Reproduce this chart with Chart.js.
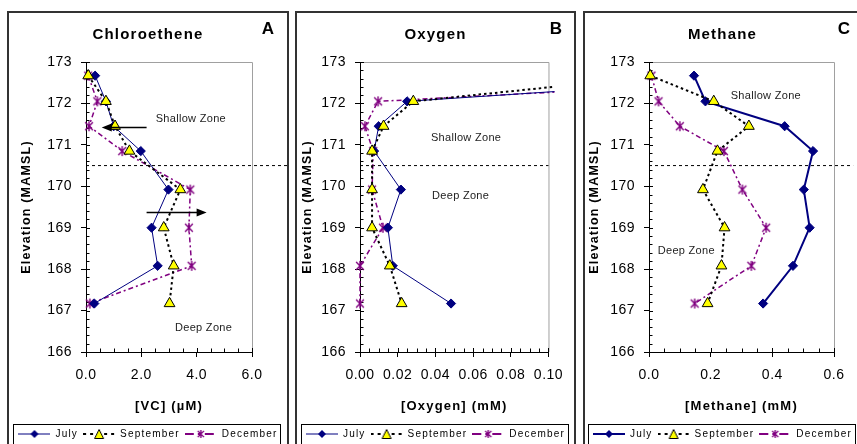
<!DOCTYPE html>
<html>
<head>
<meta charset="utf-8">
<title>Chloroethene, Oxygen and Methane profiles</title>
<script src="https://cdn.jsdelivr.net/npm/chart.js@4.4.1/dist/chart.umd.min.js"></script>
<style>
  html, body { margin: 0; padding: 0; background: #fff; }
  body { width: 857px; height: 444px; overflow: hidden; position: relative; }
  .panel { position: absolute; top: 11px; height: 450px; border: 2px solid #333; box-sizing: border-box; }
  .panel canvas { position: absolute; left: 0; top: 0; }
</style>
</head>
<body>
<div class="panel" style="left:7px;width:282px"><canvas id="chartA" width="278" height="440"></canvas></div>
<div class="panel" style="left:295px;width:281px"><canvas id="chartB" width="277" height="440"></canvas></div>
<div class="panel" style="left:583px;width:279px"><canvas id="chartC" width="275" height="440"></canvas></div>
<script>
// sampling elevations (m above mean sea level), shared by every series
const elevation = [172.67, 172.05, 171.45, 170.85, 169.92, 169.0, 168.08, 167.17];
const seriesNames = ['July', 'September', 'December'];

// [VC] in uM
const vcJuly = [0.33, 0.72, 1.0, 1.98, 2.98, 2.37, 2.59, 0.30];
const vcSept = [0.08, 0.72, 1.05, 1.57, 3.41, 2.81, 3.17, 3.02];
const vcDec  = [0.08, 0.41, 0.11, 1.31, 3.77, 3.72, 3.82, 0.14];

// [Oxygen] in mM (top values run off the axis)
const oxJuly = [0.23, 0.025, 0.0099, 0.0075, 0.0217, 0.0148, 0.0174, 0.0483];
const oxSept = [0.16, 0.0283, 0.0125, 0.0064, 0.0064, 0.0064, 0.0158, 0.0221];
const oxDec  = [0.27, 0.0096, 0.0026, 0.007, 0.0064, 0.0122, 0.0, 0.0];

// [Methane] in mM
const chJuly = [0.146, 0.183, 0.44, 0.532, 0.502, 0.521, 0.467, 0.37];
const chSept = [0.004, 0.21, 0.324, 0.222, 0.175, 0.245, 0.235, 0.19];
const chDec  = [0.008, 0.031, 0.10, 0.243, 0.303, 0.38, 0.332, 0.148];

// shallow / deep zone boundary
const boundaryElevation = 170.5;

// tick labels
const elevationLabels = ['166', '167', '168', '169', '170', '171', '172', '173'];
const vcLabels = ['0.0', '2.0', '4.0', '6.0'];
const oxLabels = ['0.00', '0.02', '0.04', '0.06', '0.08', '0.10'];
const chLabels = ['0.0', '0.2', '0.4', '0.6'];

const navy = '#000080';
const purple = '#800080';
Chart.defaults.font.family = 'Arial, "Liberation Sans", sans-serif';
Chart.defaults.color = '#000';

function makeAsterisk(size, color, lw) {
  const c = document.createElement('canvas');
  c.width = c.height = size;
  const g = c.getContext('2d');
  const m = size / 2, r = size / 2 - 1, d = r * 0.78;
  g.strokeStyle = color;
  g.lineWidth = lw;
  g.beginPath();
  g.moveTo(m - d, m - d); g.lineTo(m + d, m + d);
  g.moveTo(m + d, m - d); g.lineTo(m - d, m + d);
  g.moveTo(m, m - r); g.lineTo(m, m + r);
  g.stroke();
  return c;
}
const asterisk = makeAsterisk(12, purple, 1.4);
const asteriskSmall = makeAsterisk(10, purple, 1.4);

function legendIcon(kind, julyWidth) {
  const c = document.createElement('canvas');
  c.width = 32; c.height = 12;
  const g = c.getContext('2d');
  g.beginPath(); g.moveTo(0, 6); g.lineTo(32, 6);
  if (kind === 0) { g.strokeStyle = navy; g.lineWidth = julyWidth; }
  else if (kind === 1) { g.strokeStyle = '#000'; g.lineWidth = 2; g.setLineDash([3, 4]); }
  else { g.strokeStyle = purple; g.lineWidth = 2; g.setLineDash([9, 4, 3, 4]); }
  g.stroke();
  g.setLineDash([]);
  g.lineWidth = 1;
  if (kind === 0) {
    g.fillStyle = navy;
    g.beginPath(); g.moveTo(16, 2); g.lineTo(20, 6); g.lineTo(16, 10); g.lineTo(12, 6); g.closePath(); g.fill();
  } else if (kind === 1) {
    g.fillStyle = '#ffff00'; g.strokeStyle = '#000';
    g.beginPath(); g.moveTo(16, 1.5); g.lineTo(20.5, 10.5); g.lineTo(11.5, 10.5); g.closePath(); g.fill(); g.stroke();
  } else {
    g.drawImage(asteriskSmall, 11, 1);
  }
  return c;
}

function axisTicks(labels, parts) {
  const main = labels.map(Number);
  const ticks = [];
  main.forEach((v, i) => {
    ticks.push({ value: v, isMain: true });
    if (i < main.length - 1) {
      const step = (main[i + 1] - v) / parts;
      for (let k = 1; k < parts; k++) ticks.push({ value: +(v + k * step).toFixed(6), isMain: false });
    }
  });
  return ticks;
}

function labelFor(labels) {
  const main = labels.map(Number);
  return value => {
    const i = main.findIndex(m => Math.abs(m - value) < 1e-9);
    return i >= 0 ? labels[i] : '';
  };
}

const toPoints = xs => xs.map((v, i) => ({ x: v, y: elevation[i] }));

// draws plot frame, inner tick marks, zone notes, arrows, panel letter and legend box
const decor = {
  id: 'decor',
  beforeUpdate(chart) { chart.ctx.letterSpacing = '1.2px'; },
  beforeDraw(chart) { chart.ctx.letterSpacing = '1.2px'; },
  beforeDatasetsDraw(chart) {
    const { ctx, chartArea: a, scales: { x, y } } = chart;
    ctx.save();
    ctx.strokeStyle = '#a0a0a0';
    ctx.lineWidth = 1;
    ctx.beginPath();
    ctx.moveTo(a.left, a.top + 0.5);
    ctx.lineTo(a.right + 0.5, a.top + 0.5);
    ctx.lineTo(a.right + 0.5, a.bottom);
    ctx.stroke();
    ctx.strokeStyle = '#000';
    ctx.beginPath();
    x.ticks.forEach(t => {
      const px = Math.round(x.getPixelForValue(t.value)) + 0.5;
      ctx.moveTo(px, a.bottom);
      ctx.lineTo(px, a.bottom - (t.isMain ? 4 : 3.5));
    });
    y.ticks.forEach(t => {
      const py = Math.round(y.getPixelForValue(t.value)) + 0.5;
      ctx.moveTo(a.left, py);
      ctx.lineTo(a.left + (t.isMain ? 4 : 3.5), py);
    });
    ctx.stroke();
    ctx.restore();
  },
  afterDatasetsDraw(chart) { chart.ctx.letterSpacing = '0.5px'; },
  afterDraw(chart, args, opts) {
    const { ctx, scales: { x, y } } = chart;
    ctx.save();
    ctx.fillStyle = '#222';
    ctx.font = '11px Arial, "Liberation Sans", sans-serif';
    ctx.letterSpacing = '0.3px';
    ctx.textAlign = 'center';
    ctx.textBaseline = 'middle';
    (opts.zones || []).forEach(z => {
      ctx.fillText(z.text, x.getPixelForValue(z.x), y.getPixelForValue(z.y));
    });
    ctx.strokeStyle = '#000';
    ctx.fillStyle = '#000';
    ctx.lineWidth = 1.5;
    (opts.arrows || []).forEach(ar => {
      const x0 = x.getPixelForValue(ar.from), x1 = x.getPixelForValue(ar.to);
      const py = Math.round(y.getPixelForValue(ar.y)) + 0.5;
      const dir = Math.sign(x1 - x0);
      ctx.beginPath(); ctx.moveTo(x0, py); ctx.lineTo(x1 - dir * 8, py); ctx.stroke();
      ctx.beginPath(); ctx.moveTo(x1, py); ctx.lineTo(x1 - dir * 10, py - 4); ctx.lineTo(x1 - dir * 10, py + 4); ctx.closePath(); ctx.fill();
    });
    ctx.font = 'bold 17px Arial, "Liberation Sans", sans-serif';
    ctx.letterSpacing = '0px';
    ctx.fillText(opts.letter, 259, 16);
    const hb = chart.legend.legendHitBoxes;
    const l = Math.min(...hb.map(h => h.left)) - 5;
    const r = Math.max(...hb.map(h => h.left + h.width)) + 3;
    ctx.lineWidth = 1;
    ctx.strokeRect(Math.round(l) + 0.5, Math.round(chart.legend.top) + 0.5, Math.round(r - l), 40);
    ctx.restore();
  }
};

function makeChart(id, p) {
  const xLabel = labelFor(p.xLabels);
  const yLabel = labelFor(elevationLabels);
  const tickColor = c => (c.tick && c.tick.isMain ? '#000' : 'rgba(0,0,0,0)');
  const clip = { left: 8, top: 8, right: p.clipRight, bottom: 8 };
  const icons = [0, 1, 2].map(k => legendIcon(k, p.julyWidth));
  new Chart(document.getElementById(id), {
    type: 'scatter',
    data: {
      datasets: [
        { label: seriesNames[0], data: toPoints(p.july), showLine: true, borderColor: navy, borderWidth: p.julyWidth,
          pointStyle: 'rectRot', pointRadius: 4.6, pointBackgroundColor: navy, pointBorderColor: navy, pointBorderWidth: 1,
          order: 1, clip },
        { label: seriesNames[1], data: toPoints(p.sept), showLine: true, borderColor: '#000', borderWidth: 2, borderDash: [2.5, 3],
          pointStyle: 'triangle', pointRadius: 6.2, pointBackgroundColor: '#ffff00', pointBorderColor: '#000', pointBorderWidth: 1,
          order: 0, clip },
        { label: seriesNames[2], data: toPoints(p.dec), showLine: true, borderColor: purple, borderWidth: 1.5, borderDash: [5, 3, 2, 3],
          pointStyle: asterisk, pointRadius: 6, order: 2, clip },
        { label: 'boundary', data: [{ x: p.xMin, y: boundaryElevation }, { x: p.boundaryEnd, y: boundaryElevation }],
          showLine: true, borderColor: '#000', borderWidth: 1, borderDash: [3, 3], pointRadius: 0, order: 3, clip: false }
      ]
    },
    options: {
      responsive: false,
      animation: false,
      events: [],
      layout: { padding: { left: 0, right: 0, top: 0, bottom: 4 } },
      scales: {
        x: {
          type: 'linear', position: 'bottom', min: p.xMin, max: p.xMax,
          afterBuildTicks: s => { s.ticks = axisTicks(p.xLabels, 4); },
          afterFit: s => { s.height = 72; },
          ticks: { autoSkip: false, maxRotation: 0, padding: 9.5, font: { size: 14 }, color: '#000', z: 1, callback: xLabel },
          grid: { drawOnChartArea: false, drawTicks: true, tickLength: 5, tickWidth: 1, tickColor },
          border: { display: true, color: '#000', width: 1 },
          title: { display: true, text: p.xTitle, font: { size: 13, weight: 'bold' }, color: '#000', padding: { top: 0, bottom: 10 } }
        },
        y: {
          type: 'linear', position: 'left', min: 166, max: 173,
          afterBuildTicks: s => { s.ticks = axisTicks(elevationLabels, 5); },
          afterFit: s => { s.width = p.yWidth; },
          ticks: { autoSkip: false, padding: 9, font: { size: 14 }, color: '#000', z: 1, callback: yLabel },
          grid: { drawOnChartArea: false, drawTicks: true, tickLength: 5, tickWidth: 1, tickColor },
          border: { display: true, color: '#000', width: 1 },
          title: { display: true, text: 'Elevation (MAMSL)', font: { size: 12.5, weight: 'bold' }, color: '#000',
                   padding: { top: p.yTitlePad, bottom: 0 } }
        },
        yRight: {
          type: 'linear', position: 'right', min: 0, max: 1, display: true,
          grid: { display: false }, border: { display: false }, ticks: { display: false },
          afterFit: s => { s.width = p.rightGap; }
        }
      },
      plugins: {
        title: { display: true, text: p.title, font: { size: 15, weight: 'bold' }, color: '#000', padding: { top: 13, bottom: 18 } },
        legend: {
          position: 'bottom',
          labels: {
            usePointStyle: true, pointStyleWidth: 32, boxHeight: 10, padding: 5, color: '#000', font: { size: 10 },
            generateLabels: () => seriesNames.map((name, i) => ({
              text: name, pointStyle: icons[i], fillStyle: 'rgba(0,0,0,0)', strokeStyle: 'rgba(0,0,0,0)',
              lineWidth: 0, hidden: false, datasetIndex: i, fontColor: '#000'
            }))
          }
        },
        tooltip: { enabled: false },
        decor: { letter: p.letter, zones: p.zones, arrows: p.arrows }
      }
    },
    plugins: [decor]
  });
}

makeChart('chartA', {
  title: 'Chloroethene', letter: 'A', xTitle: '[VC] (\u00b5M)',
  july: vcJuly, sept: vcSept, dec: vcDec,
  xMin: 0, xMax: 6, xLabels: vcLabels, boundaryEnd: 7.3,
  yWidth: 77, rightGap: 35, yTitlePad: 10, julyWidth: 1, clipRight: 8,
  zones: [{ text: 'Shallow Zone', x: 3.79, y: 171.62 }, { text: 'Deep Zone', x: 4.25, y: 166.57 }],
  arrows: [{ from: 2.19, to: 0.57, y: 171.44 }, { from: 2.19, to: 4.36, y: 169.38 }]
});

makeChart('chartB', {
  title: 'Oxygen', letter: 'B', xTitle: '[Oxygen] (mM)',
  july: oxJuly, sept: oxSept, dec: oxDec,
  xMin: 0, xMax: 0.1, xLabels: oxLabels, boundaryEnd: 0.1,
  yWidth: 63, rightGap: 22, yTitlePad: 3, julyWidth: 1, clipRight: 6,
  zones: [{ text: 'Shallow Zone', x: 0.0563, y: 171.16 }, { text: 'Deep Zone', x: 0.0534, y: 169.77 }],
  arrows: []
});

makeChart('chartC', {
  title: 'Methane', letter: 'C', xTitle: '[Methane] (mM)',
  july: chJuly, sept: chSept, dec: chDec,
  xMin: 0, xMax: 0.6, xLabels: chLabels, boundaryEnd: 0.662,
  yWidth: 64, rightGap: 26, yTitlePad: 2, julyWidth: 2, clipRight: 8,
  zones: [{ text: 'Shallow Zone', x: 0.379, y: 172.19 }, { text: 'Deep Zone', x: 0.121, y: 168.45 }],
  arrows: []
});
</script>
</body>
</html>
